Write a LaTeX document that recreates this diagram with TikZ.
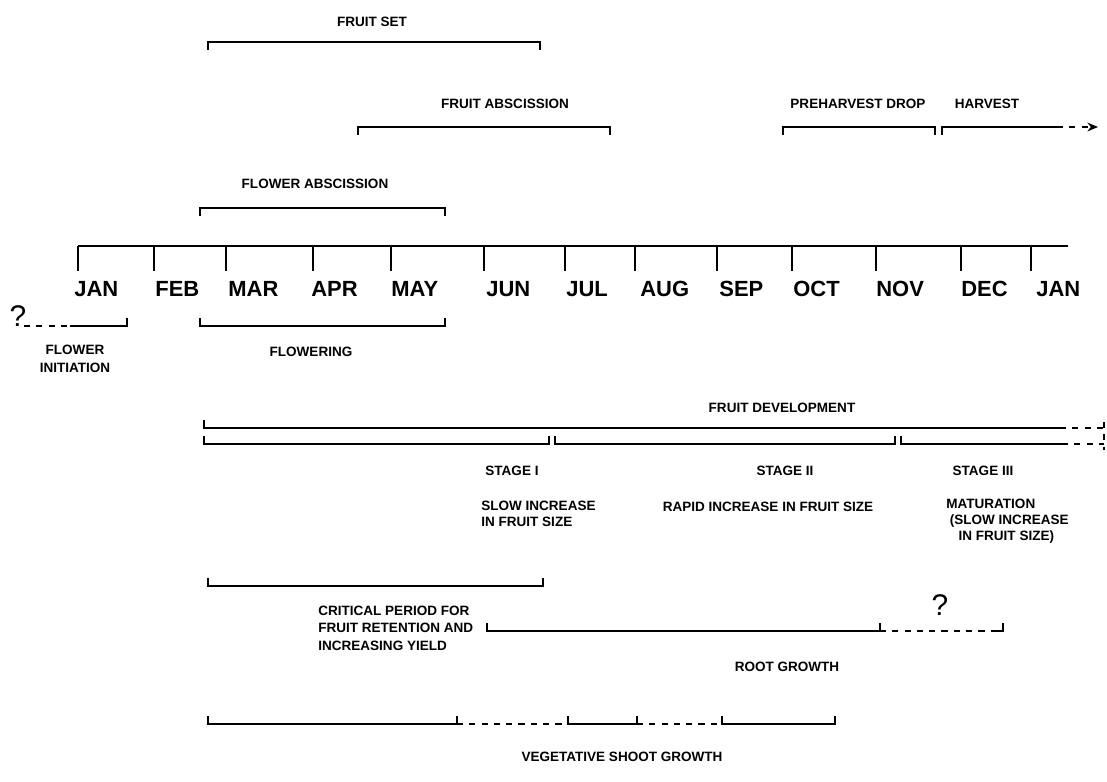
\documentclass[tikz,border=0pt]{standalone}
\usepackage{fontspec}
\setmainfont{Liberation Sans}
\usetikzlibrary{arrows.meta, positioning}
\tikzset{
  bar/.style={
    line width=1.1pt
  },
  gap/.style={
    line width=1.1pt,
    dash pattern=on 3.5pt off 3.5pt
  },
  phase/.style={
    inner sep=0pt,
    font=\fontsize{7.7}{9.1}\selectfont\bfseries
  },
  month/.style={
    inner sep=0pt,
    anchor=west,
    font=\fontsize{12.5}{14}\selectfont\bfseries
  },
  query/.style={
    inner sep=0pt,
    font=\fontsize{17}{17}\selectfont
  }
}

\begin{document}
\begin{tikzpicture}[x=0.02cm, y=-0.02cm]
\useasboundingbox[fill=white] (0,0) rectangle (1107,782);

% Month axis
\coordinate (axisL) at (78,246);
\coordinate (axisR) at (1068,246);
\draw[bar] (axisL) -- (axisR);
\foreach \t/\l/\m/\n in {78/74/JAN/janA, 154/155/FEB/feb, 226/228/MAR/mar,
    313/311/APR/apr, 391/391/MAY/may, 484/486/JUN/jun, 565/566/JUL/jul,
    635/640/AUG/aug, 717/719/SEP/sep, 792/793/OCT/oct, 876/876/NOV/nov,
    961/961/DEC/dec, 1031/1036/JAN/janB}{
  \draw[bar] (\t,246) -- (\t,271);
  \node[month] (\n) at (\l,289) {\m};
}

% Phases above the axis
\node[phase] (fset) at (372,22) {FRUIT SET};
\coordinate (setA) at (208,42);
\coordinate (setB) at (540,42);
\draw[bar] ([yshift=-0.16cm]setA) -- (setA) -- (setB) -- ([yshift=-0.16cm]setB);

\node[phase] (fabs) at (505,104) {FRUIT ABSCISSION};
\coordinate (absA) at (358,127);
\coordinate (absB) at (610,127);
\draw[bar] ([yshift=-0.16cm]absA) -- (absA) -- (absB) -- ([yshift=-0.16cm]absB);

\node[phase] (pdrop) at (858,104) {PREHARVEST DROP};
\coordinate (preA) at (783,127);
\coordinate (preB) at (935,127);
\draw[bar] ([yshift=-0.16cm]preA) -- (preA) -- (preB) -- ([yshift=-0.16cm]preB);

\node[phase] (harv) at (987,104) {HARVEST};
\coordinate (hvA) at (942,127);
\coordinate (hvB) at (1057,127);
\coordinate (hvC) at (1098,127);
\draw[bar] ([yshift=-0.16cm]hvA) -- (hvA) -- (hvB);
\draw[gap, -{Stealth[length=6pt,width=5pt]}] (hvB) -- (hvC);

\node[phase] (flabs) at (315,184) {FLOWER ABSCISSION};
\coordinate (flabsA) at (200,208);
\coordinate (flabsB) at (445,208);
\draw[bar] ([yshift=-0.16cm]flabsA) -- (flabsA) -- (flabsB) -- ([yshift=-0.16cm]flabsB);

% Phases below the axis
\node[query] (qinit) at (18,316) {?};
\coordinate (initQ) at (24,326);
\coordinate (initA) at (70,326);
\coordinate (initB) at (127,326);
\draw[gap] (initQ) -- (initA);
\draw[bar] (initA) -- (initB) -- ([yshift=0.16cm]initB);
\node[phase, align=center, font=\fontsize{7.7}{10.2}\selectfont\bfseries] (finit) at (75,359) {FLOWER\\INITIATION};

\coordinate (flwA) at (200,326);
\coordinate (flwB) at (445,326);
\draw[bar] ([yshift=0.16cm]flwA) -- (flwA) -- (flwB) -- ([yshift=0.16cm]flwB);
\node[phase] (flwr) at (311,352) {FLOWERING};

% Fruit development and its stages
\node[phase] (fdev) at (782,408) {FRUIT DEVELOPMENT};
\coordinate (devA) at (204,428);
\coordinate (devB) at (1060,428);
\coordinate (devC) at (1104,428);
\draw[bar] ([yshift=0.16cm]devA) -- (devA) -- (devB);
\draw[gap] (devB) -- (devC);

\coordinate (s1A) at (204,444);
\coordinate (s1B) at (549,444);
\coordinate (s2A) at (555,444);
\coordinate (s2B) at (895,444);
\coordinate (s3A) at (901,444);
\coordinate (s3B) at (1062,444);
\coordinate (s3C) at (1104,444);
\draw[bar] ([yshift=0.16cm]s1A) -- (s1A) -- (s1B) -- ([yshift=0.16cm]s1B);
\draw[bar] ([yshift=0.16cm]s2A) -- (s2A) -- (s2B) -- ([yshift=0.16cm]s2B);
\draw[bar] ([yshift=0.16cm]s3A) -- (s3A) -- (s3B);
\draw[gap] (s3B) -- (s3C);
\draw[gap] ([yshift=0.12cm]devC) -- ([yshift=-0.12cm]s3C);

\node[phase] (st1) at (512,471) {STAGE I};
\node[phase] (st2) at (785,471) {STAGE II};
\node[phase] (st3) at (983,471) {STAGE III};

\node[phase, align=left, anchor=west] (slow) at (481,514) {SLOW INCREASE\\IN FRUIT SIZE};
\node[phase] (rapid) at (768,507) {RAPID INCREASE IN FRUIT SIZE};
\node[phase, align=left, anchor=west] (mat) at (946,521)
  {MATURATION\\\hspace{2pt}(SLOW INCREASE\\\hspace{7pt}IN FRUIT SIZE)};

% Critical period
\coordinate (critA) at (208,586);
\coordinate (critB) at (543,586);
\draw[bar] ([yshift=0.16cm]critA) -- (critA) -- (critB) -- ([yshift=0.16cm]critB);
\node[phase, align=left, anchor=west, font=\fontsize{7.7}{9.9}\selectfont\bfseries] (crit) at (318,628)
  {CRITICAL PERIOD FOR\\FRUIT RETENTION AND\\INCREASING YIELD};

% Root growth
\node[query] (qroot) at (940,605) {?};
\coordinate (rootA) at (487,631);
\coordinate (rootB) at (880,631);
\coordinate (rootC) at (1003,631);
\draw[bar] ([yshift=0.16cm]rootA) -- (rootA) -- (rootB) -- ([yshift=0.16cm]rootB);
\draw[gap] (rootB) -- (rootC);
\draw[bar] ([xshift=-0.2cm]rootC) -- (rootC) -- ([yshift=0.16cm]rootC);
\node[phase] (root) at (787,667) {ROOT GROWTH};

% Vegetative shoot growth
\coordinate (vegA) at (208,724);
\coordinate (vegB) at (457,724);
\coordinate (vegC) at (568,724);
\coordinate (vegD) at (637,724);
\coordinate (vegE) at (722,724);
\coordinate (vegF) at (835,724);
\draw[bar] ([yshift=0.16cm]vegA) -- (vegA) -- (vegB) -- ([yshift=0.16cm]vegB);
\draw[gap] (vegB) -- (vegC);
\draw[bar] ([yshift=0.16cm]vegC) -- (vegC) -- (vegD) -- ([yshift=0.16cm]vegD);
\draw[gap] (vegD) -- (vegE);
\draw[bar] ([yshift=0.16cm]vegE) -- (vegE) -- (vegF) -- ([yshift=0.16cm]vegF);
\node[phase] (veg) at (622,757) {VEGETATIVE SHOOT GROWTH};

\end{tikzpicture}
\end{document}
